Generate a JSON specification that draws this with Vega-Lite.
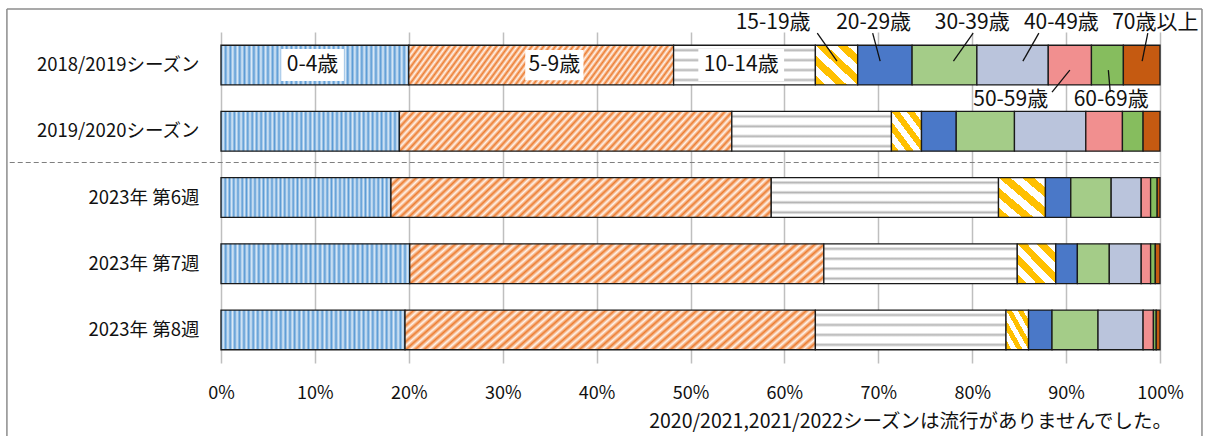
{
  "$schema": "https://vega.github.io/schema/vega-lite/v6.json",
  "width": 939,
  "height": 331,
  "autosize": "none",
  "padding": {"left": 221, "top": 32, "right": 52, "bottom": 73},
  "background": "white",
  "config": {"font": "Noto Sans CJK JP", "view": {"stroke": null}},
  "datasets": {
    "shares": [
      {"period": "2018/2019シーズン", "age": "0-4歳", "o": 0, "v": 20.0},
      {"period": "2018/2019シーズン", "age": "5-9歳", "o": 1, "v": 28.2},
      {"period": "2018/2019シーズン", "age": "10-14歳", "o": 2, "v": 15.1},
      {"period": "2018/2019シーズン", "age": "15-19歳", "o": 3, "v": 4.5},
      {"period": "2018/2019シーズン", "age": "20-29歳", "o": 4, "v": 5.8},
      {"period": "2018/2019シーズン", "age": "30-39歳", "o": 5, "v": 6.9},
      {"period": "2018/2019シーズン", "age": "40-49歳", "o": 6, "v": 7.6},
      {"period": "2018/2019シーズン", "age": "50-59歳", "o": 7, "v": 4.6},
      {"period": "2018/2019シーズン", "age": "60-69歳", "o": 8, "v": 3.4},
      {"period": "2018/2019シーズン", "age": "70歳以上", "o": 9, "v": 3.9},
      {"period": "2019/2020シーズン", "age": "0-4歳", "o": 0, "v": 19.0},
      {"period": "2019/2020シーズン", "age": "5-9歳", "o": 1, "v": 35.4},
      {"period": "2019/2020シーズン", "age": "10-14歳", "o": 2, "v": 17.0},
      {"period": "2019/2020シーズン", "age": "15-19歳", "o": 3, "v": 3.2},
      {"period": "2019/2020シーズン", "age": "20-29歳", "o": 4, "v": 3.7},
      {"period": "2019/2020シーズン", "age": "30-39歳", "o": 5, "v": 6.2},
      {"period": "2019/2020シーズン", "age": "40-49歳", "o": 6, "v": 7.6},
      {"period": "2019/2020シーズン", "age": "50-59歳", "o": 7, "v": 3.9},
      {"period": "2019/2020シーズン", "age": "60-69歳", "o": 8, "v": 2.2},
      {"period": "2019/2020シーズン", "age": "70歳以上", "o": 9, "v": 1.8},
      {"period": "2023年 第6週", "age": "0-4歳", "o": 0, "v": 18.1},
      {"period": "2023年 第6週", "age": "5-9歳", "o": 1, "v": 40.5},
      {"period": "2023年 第6週", "age": "10-14歳", "o": 2, "v": 24.2},
      {"period": "2023年 第6週", "age": "15-19歳", "o": 3, "v": 5.0},
      {"period": "2023年 第6週", "age": "20-29歳", "o": 4, "v": 2.7},
      {"period": "2023年 第6週", "age": "30-39歳", "o": 5, "v": 4.3},
      {"period": "2023年 第6週", "age": "40-49歳", "o": 6, "v": 3.2},
      {"period": "2023年 第6週", "age": "50-59歳", "o": 7, "v": 1.0},
      {"period": "2023年 第6週", "age": "60-69歳", "o": 8, "v": 0.7},
      {"period": "2023年 第6週", "age": "70歳以上", "o": 9, "v": 0.3},
      {"period": "2023年 第7週", "age": "0-4歳", "o": 0, "v": 20.1},
      {"period": "2023年 第7週", "age": "5-9歳", "o": 1, "v": 44.1},
      {"period": "2023年 第7週", "age": "10-14歳", "o": 2, "v": 20.6},
      {"period": "2023年 第7週", "age": "15-19歳", "o": 3, "v": 4.1},
      {"period": "2023年 第7週", "age": "20-29歳", "o": 4, "v": 2.3},
      {"period": "2023年 第7週", "age": "30-39歳", "o": 5, "v": 3.4},
      {"period": "2023年 第7週", "age": "40-49歳", "o": 6, "v": 3.4},
      {"period": "2023年 第7週", "age": "50-59歳", "o": 7, "v": 1.0},
      {"period": "2023年 第7週", "age": "60-69歳", "o": 8, "v": 0.5},
      {"period": "2023年 第7週", "age": "70歳以上", "o": 9, "v": 0.5},
      {"period": "2023年 第8週", "age": "0-4歳", "o": 0, "v": 19.6},
      {"period": "2023年 第8週", "age": "5-9歳", "o": 1, "v": 43.7},
      {"period": "2023年 第8週", "age": "10-14歳", "o": 2, "v": 20.3},
      {"period": "2023年 第8週", "age": "15-19歳", "o": 3, "v": 2.4},
      {"period": "2023年 第8週", "age": "20-29歳", "o": 4, "v": 2.5},
      {"period": "2023年 第8週", "age": "30-39歳", "o": 5, "v": 4.9},
      {"period": "2023年 第8週", "age": "40-49歳", "o": 6, "v": 4.8},
      {"period": "2023年 第8週", "age": "50-59歳", "o": 7, "v": 1.1},
      {"period": "2023年 第8週", "age": "60-69歳", "o": 8, "v": 0.3},
      {"period": "2023年 第8週", "age": "70歳以上", "o": 9, "v": 0.4}
    ],
    "labels": [
      {"lab": "0-4歳", "pos": "in", "tx": 0.0975},
      {"lab": "5-9歳", "pos": "in", "tx": 0.355},
      {"lab": "10-14歳", "pos": "in", "tx": 0.554},
      {"lab": "15-19歳", "pos": "above", "tx": 0.588, "lt": 0.635, "lb": 0.656},
      {"lab": "20-29歳", "pos": "above", "tx": 0.695, "lt": 0.694, "lb": 0.702},
      {"lab": "30-39歳", "pos": "above", "tx": 0.800, "lt": 0.801, "lb": 0.780},
      {"lab": "40-49歳", "pos": "above", "tx": 0.895, "lt": 0.871, "lb": 0.854},
      {"lab": "70歳以上", "pos": "above", "tx": 0.995, "lt": 0.987, "lb": 0.981},
      {"lab": "50-59歳", "pos": "below", "tx": 0.841, "lt": 0.904, "lb": 0.885},
      {"lab": "60-69歳", "pos": "below", "tx": 0.948, "lt": 0.945, "lb": 0.947}
    ]
  },
  "layer": [
    {
      "data": {"name": "shares"},
      "transform": [
        {"stack": "v", "groupby": ["period"], "sort": [{"field": "o", "order": "ascending"}], "offset": "normalize", "as": ["x0", "x1"]}
      ],
      "encoding": {
        "y": {"field": "period", "type": "nominal", "title": null,
              "scale": {"domain": ["2018/2019シーズン", "2019/2020シーズン", "2023年 第6週", "2023年 第7週", "2023年 第8週"], "paddingInner": 0.4, "paddingOuter": 0.2},
              "axis": {"domain": false, "ticks": false, "grid": false, "labelFontSize": 18.5, "labelPadding": 22, "labelColor": "#111111"}},
        "x": {"field": "x0", "type": "quantitative", "title": null,
              "scale": {"domain": [0, 1], "nice": false},
              "axis": {"values": [0, 0.1, 0.2, 0.3, 0.4, 0.5, 0.6, 0.7, 0.8, 0.9, 1], "format": ".0%", "grid": true, "gridColor": "#BFBFBF", "gridWidth": 1.5, "domain": false, "ticks": false, "labelFlush": false, "labelFontSize": 18, "labelPadding": 21, "labelColor": "#111111"}},
        "x2": {"field": "x1"}
      },
      "layer": [
        {"transform": [{"filter": {"field": "age", "equal": "0-4歳"}}],
         "mark": {"type": "bar", "stroke": "#1a1a1a", "strokeWidth": 1.3, "fill": {"gradient": "linear", "x1": 0, "y1": 0, "x2": 1, "y2": 0, "stops": [
{"offset":0,"color":"#5B9BD5"},{"offset":0.0125,"color":"#DCEAF7"},{"offset":0.025,"color":"#5B9BD5"},{"offset":0.0375,"color":"#DCEAF7"},{"offset":0.05,"color":"#5B9BD5"},{"offset":0.0625,"color":"#DCEAF7"},{"offset":0.075,"color":"#5B9BD5"},{"offset":0.0875,"color":"#DCEAF7"},{"offset":0.1,"color":"#5B9BD5"},{"offset":0.1125,"color":"#DCEAF7"},{"offset":0.125,"color":"#5B9BD5"},{"offset":0.1375,"color":"#DCEAF7"},{"offset":0.15,"color":"#5B9BD5"},{"offset":0.1625,"color":"#DCEAF7"},{"offset":0.175,"color":"#5B9BD5"},{"offset":0.1875,"color":"#DCEAF7"},{"offset":0.2,"color":"#5B9BD5"},{"offset":0.2125,"color":"#DCEAF7"},{"offset":0.225,"color":"#5B9BD5"},{"offset":0.2375,"color":"#DCEAF7"},{"offset":0.25,"color":"#5B9BD5"},{"offset":0.2625,"color":"#DCEAF7"},{"offset":0.275,"color":"#5B9BD5"},{"offset":0.2875,"color":"#DCEAF7"},{"offset":0.3,"color":"#5B9BD5"},{"offset":0.3125,"color":"#DCEAF7"},{"offset":0.325,"color":"#5B9BD5"},{"offset":0.3375,"color":"#DCEAF7"},{"offset":0.35,"color":"#5B9BD5"},{"offset":0.3625,"color":"#DCEAF7"},{"offset":0.375,"color":"#5B9BD5"},{"offset":0.3875,"color":"#DCEAF7"},{"offset":0.4,"color":"#5B9BD5"},{"offset":0.4125,"color":"#DCEAF7"},{"offset":0.425,"color":"#5B9BD5"},{"offset":0.4375,"color":"#DCEAF7"},{"offset":0.45,"color":"#5B9BD5"},{"offset":0.4625,"color":"#DCEAF7"},{"offset":0.475,"color":"#5B9BD5"},{"offset":0.4875,"color":"#DCEAF7"},{"offset":0.5,"color":"#5B9BD5"},{"offset":0.5125,"color":"#DCEAF7"},{"offset":0.525,"color":"#5B9BD5"},{"offset":0.5375,"color":"#DCEAF7"},{"offset":0.55,"color":"#5B9BD5"},{"offset":0.5625,"color":"#DCEAF7"},{"offset":0.575,"color":"#5B9BD5"},{"offset":0.5875,"color":"#DCEAF7"},{"offset":0.6,"color":"#5B9BD5"},{"offset":0.6125,"color":"#DCEAF7"},{"offset":0.625,"color":"#5B9BD5"},{"offset":0.6375,"color":"#DCEAF7"},{"offset":0.65,"color":"#5B9BD5"},{"offset":0.6625,"color":"#DCEAF7"},{"offset":0.675,"color":"#5B9BD5"},{"offset":0.6875,"color":"#DCEAF7"},{"offset":0.7,"color":"#5B9BD5"},{"offset":0.7125,"color":"#DCEAF7"},{"offset":0.725,"color":"#5B9BD5"},{"offset":0.7375,"color":"#DCEAF7"},{"offset":0.75,"color":"#5B9BD5"},{"offset":0.7625,"color":"#DCEAF7"},{"offset":0.775,"color":"#5B9BD5"},{"offset":0.7875,"color":"#DCEAF7"},{"offset":0.8,"color":"#5B9BD5"},{"offset":0.8125,"color":"#DCEAF7"},{"offset":0.825,"color":"#5B9BD5"},{"offset":0.8375,"color":"#DCEAF7"},{"offset":0.85,"color":"#5B9BD5"},{"offset":0.8625,"color":"#DCEAF7"},{"offset":0.875,"color":"#5B9BD5"},{"offset":0.8875,"color":"#DCEAF7"},{"offset":0.9,"color":"#5B9BD5"},{"offset":0.9125,"color":"#DCEAF7"},{"offset":0.925,"color":"#5B9BD5"},{"offset":0.9375,"color":"#DCEAF7"},{"offset":0.95,"color":"#5B9BD5"},{"offset":0.9625,"color":"#DCEAF7"},{"offset":0.975,"color":"#5B9BD5"},{"offset":0.9875,"color":"#DCEAF7"},{"offset":1,"color":"#5B9BD5"}
         ]}}},
        {"transform": [{"filter": {"field": "age", "equal": "5-9歳"}}],
         "mark": {"type": "bar", "stroke": "#1a1a1a", "strokeWidth": 1.3, "fill": {"gradient": "linear", "x1": 0, "y1": 0, "x2": 1.1, "y2": 0.121, "stops": [
{"offset":0,"color":"#ED7D31"},{"offset":0.01,"color":"#FFF4EC"},{"offset":0.02,"color":"#ED7D31"},{"offset":0.03,"color":"#FFF4EC"},{"offset":0.04,"color":"#ED7D31"},{"offset":0.05,"color":"#FFF4EC"},{"offset":0.06,"color":"#ED7D31"},{"offset":0.07,"color":"#FFF4EC"},{"offset":0.08,"color":"#ED7D31"},{"offset":0.09,"color":"#FFF4EC"},{"offset":0.1,"color":"#ED7D31"},{"offset":0.11,"color":"#FFF4EC"},{"offset":0.12,"color":"#ED7D31"},{"offset":0.13,"color":"#FFF4EC"},{"offset":0.14,"color":"#ED7D31"},{"offset":0.15,"color":"#FFF4EC"},{"offset":0.16,"color":"#ED7D31"},{"offset":0.17,"color":"#FFF4EC"},{"offset":0.18,"color":"#ED7D31"},{"offset":0.19,"color":"#FFF4EC"},{"offset":0.2,"color":"#ED7D31"},{"offset":0.21,"color":"#FFF4EC"},{"offset":0.22,"color":"#ED7D31"},{"offset":0.23,"color":"#FFF4EC"},{"offset":0.24,"color":"#ED7D31"},{"offset":0.25,"color":"#FFF4EC"},{"offset":0.26,"color":"#ED7D31"},{"offset":0.27,"color":"#FFF4EC"},{"offset":0.28,"color":"#ED7D31"},{"offset":0.29,"color":"#FFF4EC"},{"offset":0.3,"color":"#ED7D31"},{"offset":0.31,"color":"#FFF4EC"},{"offset":0.32,"color":"#ED7D31"},{"offset":0.33,"color":"#FFF4EC"},{"offset":0.34,"color":"#ED7D31"},{"offset":0.35,"color":"#FFF4EC"},{"offset":0.36,"color":"#ED7D31"},{"offset":0.37,"color":"#FFF4EC"},{"offset":0.38,"color":"#ED7D31"},{"offset":0.39,"color":"#FFF4EC"},{"offset":0.4,"color":"#ED7D31"},{"offset":0.41,"color":"#FFF4EC"},{"offset":0.42,"color":"#ED7D31"},{"offset":0.43,"color":"#FFF4EC"},{"offset":0.44,"color":"#ED7D31"},{"offset":0.45,"color":"#FFF4EC"},{"offset":0.46,"color":"#ED7D31"},{"offset":0.47,"color":"#FFF4EC"},{"offset":0.48,"color":"#ED7D31"},{"offset":0.49,"color":"#FFF4EC"},{"offset":0.5,"color":"#ED7D31"},{"offset":0.51,"color":"#FFF4EC"},{"offset":0.52,"color":"#ED7D31"},{"offset":0.53,"color":"#FFF4EC"},{"offset":0.54,"color":"#ED7D31"},{"offset":0.55,"color":"#FFF4EC"},{"offset":0.56,"color":"#ED7D31"},{"offset":0.57,"color":"#FFF4EC"},{"offset":0.58,"color":"#ED7D31"},{"offset":0.59,"color":"#FFF4EC"},{"offset":0.6,"color":"#ED7D31"},{"offset":0.61,"color":"#FFF4EC"},{"offset":0.62,"color":"#ED7D31"},{"offset":0.63,"color":"#FFF4EC"},{"offset":0.64,"color":"#ED7D31"},{"offset":0.65,"color":"#FFF4EC"},{"offset":0.66,"color":"#ED7D31"},{"offset":0.67,"color":"#FFF4EC"},{"offset":0.68,"color":"#ED7D31"},{"offset":0.69,"color":"#FFF4EC"},{"offset":0.7,"color":"#ED7D31"},{"offset":0.71,"color":"#FFF4EC"},{"offset":0.72,"color":"#ED7D31"},{"offset":0.73,"color":"#FFF4EC"},{"offset":0.74,"color":"#ED7D31"},{"offset":0.75,"color":"#FFF4EC"},{"offset":0.76,"color":"#ED7D31"},{"offset":0.77,"color":"#FFF4EC"},{"offset":0.78,"color":"#ED7D31"},{"offset":0.79,"color":"#FFF4EC"},{"offset":0.8,"color":"#ED7D31"},{"offset":0.81,"color":"#FFF4EC"},{"offset":0.82,"color":"#ED7D31"},{"offset":0.83,"color":"#FFF4EC"},{"offset":0.84,"color":"#ED7D31"},{"offset":0.85,"color":"#FFF4EC"},{"offset":0.86,"color":"#ED7D31"},{"offset":0.87,"color":"#FFF4EC"},{"offset":0.88,"color":"#ED7D31"},{"offset":0.89,"color":"#FFF4EC"},{"offset":0.9,"color":"#ED7D31"},{"offset":0.91,"color":"#FFF4EC"},{"offset":0.92,"color":"#ED7D31"},{"offset":0.93,"color":"#FFF4EC"},{"offset":0.94,"color":"#ED7D31"},{"offset":0.95,"color":"#FFF4EC"},{"offset":0.96,"color":"#ED7D31"},{"offset":0.97,"color":"#FFF4EC"},{"offset":0.98,"color":"#ED7D31"},{"offset":0.99,"color":"#FFF4EC"},{"offset":1,"color":"#ED7D31"}
         ]}}},
        {"transform": [{"filter": {"field": "age", "equal": "10-14歳"}}],
         "mark": {"type": "bar", "stroke": "#1a1a1a", "strokeWidth": 1.3, "fill": {"gradient": "linear", "x1": 0, "y1": 0, "x2": 0, "y2": 1, "stops": [
{"offset":0,"color":"#FFFFFF"},{"offset":0.07,"color":"#FFFFFF"},{"offset":0.125,"color":"#B4B4B4"},{"offset":0.18,"color":"#FFFFFF"},{"offset":0.32,"color":"#FFFFFF"},{"offset":0.375,"color":"#B4B4B4"},{"offset":0.43,"color":"#FFFFFF"},{"offset":0.57,"color":"#FFFFFF"},{"offset":0.625,"color":"#B4B4B4"},{"offset":0.68,"color":"#FFFFFF"},{"offset":0.82,"color":"#FFFFFF"},{"offset":0.875,"color":"#B4B4B4"},{"offset":0.93,"color":"#FFFFFF"},{"offset":1,"color":"#FFFFFF"}
         ]}}},
        {"transform": [{"filter": {"field": "age", "equal": "15-19歳"}}],
         "mark": {"type": "bar", "stroke": "#1a1a1a", "strokeWidth": 1.3, "fill": {"gradient": "linear", "x1": 0, "y1": 1, "x2": 1, "y2": 0, "stops": [
{"offset":0,"color":"#FFC000"},{"offset":0.125,"color":"#FFC000"},{"offset":0.125,"color":"#FFFFFF"},{"offset":0.25,"color":"#FFFFFF"},{"offset":0.25,"color":"#FFC000"},{"offset":0.375,"color":"#FFC000"},{"offset":0.375,"color":"#FFFFFF"},{"offset":0.5,"color":"#FFFFFF"},{"offset":0.5,"color":"#FFC000"},{"offset":0.625,"color":"#FFC000"},{"offset":0.625,"color":"#FFFFFF"},{"offset":0.75,"color":"#FFFFFF"},{"offset":0.75,"color":"#FFC000"},{"offset":0.875,"color":"#FFC000"},{"offset":0.875,"color":"#FFFFFF"},{"offset":1,"color":"#FFFFFF"}
         ]}}},
        {"transform": [{"filter": {"field": "age", "equal": "20-29歳"}}],
         "mark": {"type": "bar", "stroke": "#1a1a1a", "strokeWidth": 1.3, "fill": "#4A78C8"}},
        {"transform": [{"filter": {"field": "age", "equal": "30-39歳"}}],
         "mark": {"type": "bar", "stroke": "#1a1a1a", "strokeWidth": 1.3, "fill": "#A4CC88"}},
        {"transform": [{"filter": {"field": "age", "equal": "40-49歳"}}],
         "mark": {"type": "bar", "stroke": "#1a1a1a", "strokeWidth": 1.3, "fill": "#BAC4DC"}},
        {"transform": [{"filter": {"field": "age", "equal": "50-59歳"}}],
         "mark": {"type": "bar", "stroke": "#1a1a1a", "strokeWidth": 1.3, "fill": "#F18F8F"}},
        {"transform": [{"filter": {"field": "age", "equal": "60-69歳"}}],
         "mark": {"type": "bar", "stroke": "#1a1a1a", "strokeWidth": 1.3, "fill": "#86BD5E"}},
        {"transform": [{"filter": {"field": "age", "equal": "70歳以上"}}],
         "mark": {"type": "bar", "stroke": "#1a1a1a", "strokeWidth": 1.3, "fill": "#C55A11"}}
      ]
    },
    {
      "data": {"values": [{"k": 1}]},
      "mark": {"type": "rule", "strokeDash": [5, 3], "color": "#7F7F7F", "strokeWidth": 1.2, "yOffset": -35},
      "encoding": {
        "x": {"datum": -0.225, "type": "quantitative", "title": null},
        "x2": {"datum": 1},
        "y": {"datum": "2023年 第6週", "type": "nominal", "title": null}
      }
    },
    {
      "data": {"values": [{"k": 1}]},
      "mark": {"type": "rule", "color": "#8C8C8C", "strokeWidth": 1.5, "yOffset": -56},
      "encoding": {
        "x": {"datum": -0.228, "type": "quantitative", "title": null},
        "x2": {"datum": 1.0447},
        "y": {"datum": "2018/2019シーズン", "type": "nominal", "title": null}
      }
    },
    {
      "data": {"values": [{"k": 1}]},
      "mark": {"type": "rule", "color": "#8C8C8C", "strokeWidth": 1.5, "yOffset": -56, "y2Offset": 110},
      "encoding": {
        "x": {"datum": -0.228, "type": "quantitative", "title": null},
        "y": {"datum": "2018/2019シーズン", "type": "nominal", "title": null},
        "y2": {"datum": "2023年 第8週"}
      }
    },
    {
      "data": {"values": [{"k": 1}]},
      "mark": {"type": "rule", "color": "#8C8C8C", "strokeWidth": 1.5, "yOffset": -56, "y2Offset": 110},
      "encoding": {
        "x": {"datum": 1.0447, "type": "quantitative", "title": null},
        "y": {"datum": "2018/2019シーズン", "type": "nominal", "title": null},
        "y2": {"datum": "2023年 第8週"}
      }
    },
    {
      "data": {"values": [{"note": "2020/2021,2021/2022シーズンは流行がありませんでした。"}]},
      "mark": {"type": "text", "fontSize": 19.5, "color": "#111111", "align": "right", "baseline": "middle", "dy": 92},
      "encoding": {
        "x": {"datum": 1.0128, "type": "quantitative", "title": null},
        "y": {"datum": "2023年 第8週", "type": "nominal", "title": null},
        "text": {"field": "note"}
      }
    },
    {
      "data": {"name": "labels"},
      "transform": [{"filter": {"field": "pos", "equal": "in"}}],
      "mark": {"type": "point", "filled": true, "fill": "#FFFFFF", "opacity": 1, "strokeWidth": 0, "size": 4096},
      "encoding": {
        "x": {"field": "tx", "type": "quantitative", "title": null},
        "y": {"datum": "2018/2019シーズン", "type": "nominal", "title": null},
        "shape": {"field": "lab", "type": "nominal", "legend": null,
                  "scale": {"domain": ["0-4歳", "5-9歳", "10-14歳"], "range": ["M-0.98,-0.5L0.98,-0.5L0.98,0.5L-0.98,0.5Z", "M-0.91,-0.47L0.91,-0.47L0.91,0.47L-0.91,0.47Z", "M-1.34,-0.5L1.34,-0.5L1.34,0.5L-1.34,0.5Z"]}}
      }
    },
    {
      "data": {"name": "labels"},
      "transform": [{"filter": {"field": "pos", "equal": "in"}}],
      "mark": {"type": "text", "fontSize": 21, "color": "#111111", "baseline": "middle", "align": "center"},
      "encoding": {
        "x": {"field": "tx", "type": "quantitative", "title": null},
        "y": {"datum": "2018/2019シーズン", "type": "nominal", "title": null},
        "text": {"field": "lab"}
      }
    },
    {
      "data": {"name": "labels"},
      "transform": [{"filter": {"field": "pos", "equal": "above"}}],
      "mark": {"type": "text", "fontSize": 21, "color": "#111111", "baseline": "middle", "align": "center", "dy": -42},
      "encoding": {
        "x": {"field": "tx", "type": "quantitative", "title": null},
        "y": {"datum": "2018/2019シーズン", "type": "nominal", "title": null},
        "text": {"field": "lab"}
      }
    },
    {
      "data": {"name": "labels"},
      "transform": [{"filter": {"field": "pos", "equal": "below"}}],
      "mark": {"type": "text", "fontSize": 21, "color": "#111111", "baseline": "middle", "align": "center", "dy": 35},
      "encoding": {
        "x": {"field": "tx", "type": "quantitative", "title": null},
        "y": {"datum": "2018/2019シーズン", "type": "nominal", "title": null},
        "text": {"field": "lab"}
      }
    },
    {
      "data": {"name": "labels"},
      "transform": [{"filter": {"field": "pos", "equal": "above"}}],
      "mark": {"type": "rule", "color": "#111111", "strokeWidth": 1.3, "yOffset": -32, "y2Offset": -4},
      "encoding": {
        "x": {"field": "lt", "type": "quantitative", "title": null},
        "x2": {"field": "lb"},
        "y": {"datum": "2018/2019シーズン", "type": "nominal", "title": null},
        "y2": {"datum": "2018/2019シーズン"}
      }
    },
    {
      "data": {"name": "labels"},
      "transform": [{"filter": {"field": "pos", "equal": "below"}}],
      "mark": {"type": "rule", "color": "#111111", "strokeWidth": 1.3, "yOffset": 5, "y2Offset": 27},
      "encoding": {
        "x": {"field": "lt", "type": "quantitative", "title": null},
        "x2": {"field": "lb"},
        "y": {"datum": "2018/2019シーズン", "type": "nominal", "title": null},
        "y2": {"datum": "2018/2019シーズン"}
      }
    }
  ]
}
